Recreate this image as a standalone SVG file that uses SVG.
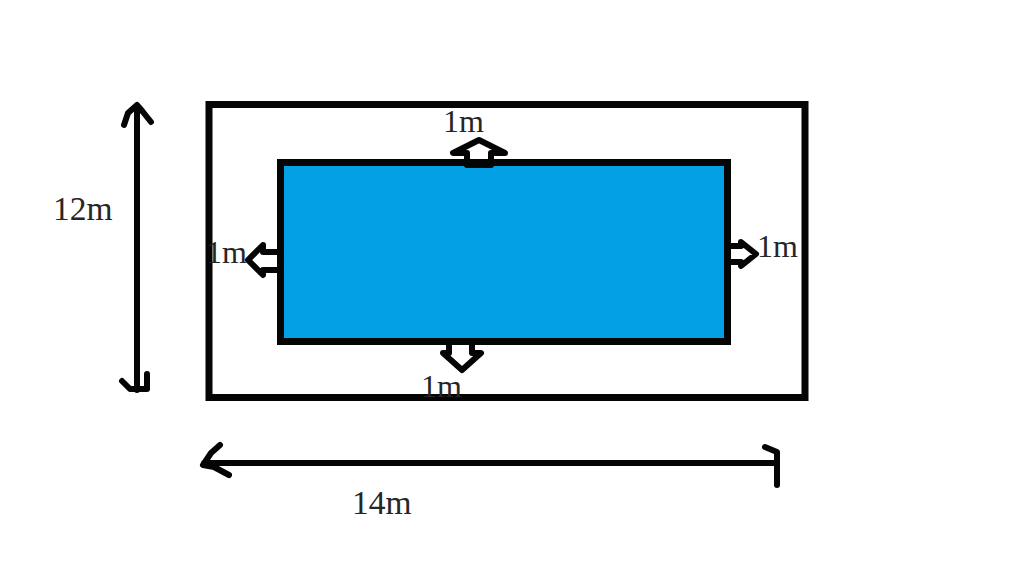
<svg xmlns="http://www.w3.org/2000/svg" width="1024" height="565" viewBox="0 0 1024 565">
<style>
.s{fill:none;stroke:#050505;stroke-linecap:round;stroke-linejoin:round}
.l{stroke-width:6}
.a{stroke-width:6}
.t{font-family:"Liberation Serif","Times New Roman",serif;font-size:32px;fill:#262626}
.b{font-size:33.500px}
.box{stroke:#050505;stroke-width:7}
</style>
<rect width="1024" height="565" fill="#fff"/>
<g id="outer-rect"><rect class="box" x="209" y="104.500" width="596" height="293" fill="none"/></g>
<g id="pool"><rect class="box" x="280.500" y="162.500" width="447" height="179" fill="#04a0e6"/></g>
<g id="connectors">
<path id="dim-12m" class="s l" d="M137 106V390M124 125L128 113L137 105L143 112L151 122M122 381L130 389H147V374"/>
<path id="dim-14m" class="s l" d="M204 463H777M220 445L211 453L203 465L214 467L229 475M765 447L777 452V485"/>
<path id="arrow-top" class="s a" d="M453 153H467V164H491V153H505L479 140ZM467 165H491"/>
<path id="arrow-bottom" class="s a" d="M449 343V353H443L462 370L481 353H472V343"/>
<path id="arrow-left" class="s a" d="M278 252H263V245L248 260L263 275V270H278"/>
<path id="arrow-right" class="s a" d="M729 246H741V242L756 254L741 266V262H729"/>
</g>
<g id="label-12m"><text class="t b" x="53" y="220">12m</text></g>
<g id="label-14m"><text class="t b" x="352" y="514">14m</text></g>
<g id="label-top"><text class="t" x="443" y="132">1m</text></g>
<g id="label-left"><text class="t" x="206" y="263">1m</text></g>
<g id="label-right"><text class="t" x="757" y="257">1m</text></g>
<g id="label-bottom"><text class="t" x="421" y="397">1m</text></g>
</svg>
